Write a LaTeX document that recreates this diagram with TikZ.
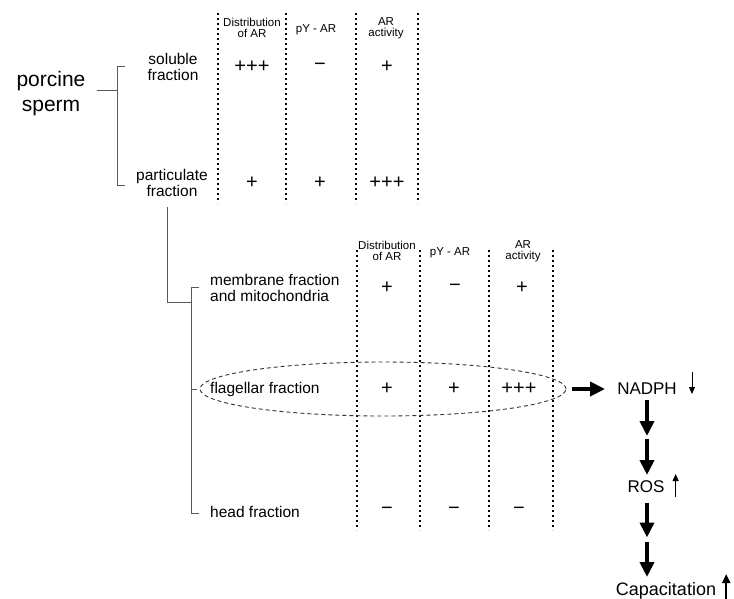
\documentclass[tikz,border=0pt]{standalone}
\usepackage{fontspec}
\setmainfont{Liberation Sans}
\usetikzlibrary{arrows.meta, shapes.geometric}

\begin{document}
\begin{tikzpicture}[
x=1pt, y=-1pt,
lbl/.style={inner sep=0pt, align=center, font=\fontsize{15.5}{16}\selectfont},
hdr/.style={inner sep=0pt, align=center, font=\fontsize{11.5}{11.5}\selectfont},
val/.style={inner sep=0pt, font=\fontsize{20}{20}\selectfont},
big/.style={inner sep=0pt, font=\fontsize{17}{17}\selectfont},
tree/.style={draw=black!65, line width=1pt},
sepline/.style={line width=1.1pt, dash pattern=on 2pt off 3pt},
fat/.style={line width=4.5pt, -{Triangle[length=15pt, width=14pt]}},
thin/.style={line width=0.9pt, -{Triangle[length=7pt, width=6pt]}}
]
\useasboundingbox (0,0) rectangle (734,598);

% upper table
\node[inner sep=0pt, align=center, font=\fontsize{21}{25}\selectfont] (porcine) at (51,94) {porcine\\sperm};
\node[lbl] (soluble) at (173,67) {soluble\\fraction};
\node[lbl] (particulate) at (172,183) {particulate\\fraction};

\node[hdr] (distA) at (252,28) {Distribution\\of AR};
\node[hdr] (pyA) at (316,30) {pY - AR};
\node[hdr] (actA) at (386,28) {AR\\activity};

\foreach \x in {218,286,356,418}
  \draw[sepline] (\x,13) -- (\x,203);

\node[val] (s1) at (252,67) {+++};
\node[val] (s2) at (320,67) {−};
\node[val] (s3) at (387,67) {+};
\node[val] (p1) at (252,183) {+};
\node[val] (p2) at (320,183) {+};
\node[val] (p3) at (387,183) {+++};

\coordinate (j1) at (117,90);
\coordinate (t1) at (125,66);
\coordinate (t2) at (125,185);
\draw[tree, shorten <=11pt] (porcine.east |- j1) -- (j1);
\draw[tree] (t1) -- ++(-8,0) |- (t2);

% lower table
\node[lbl, anchor=west, align=left] (membrane) at (210,288) {membrane fraction\\and mitochondria};
\node[lbl, anchor=west] (flagellar) at (210,389) {flagellar fraction};
\node[lbl, anchor=west] (head) at (210,512) {head fraction};

\node[hdr] (distB) at (387,251) {Distribution\\of AR};
\node[hdr] (pyB) at (450,253) {pY - AR};
\node[hdr] (actB) at (523,251) {AR\\activity};

\foreach \x in {357,420,489,553}
  \draw[sepline] (\x,250) -- (\x,530);

\node[val] (m1v) at (387,288) {+};
\node[val] (m2v) at (455,288) {−};
\node[val] (m3v) at (522,288) {+};
\node[val] (f1) at (387,389) {+};
\node[val] (f2) at (454,389) {+};
\node[val] (f3) at (519,389) {+++};
\node[val] (h1) at (387,511) {−};
\node[val] (h2) at (454,511) {−};
\node[val] (h3) at (519,511) {−};

\node[ellipse, draw=black!80, dash pattern=on 4pt off 3pt, line width=0.9pt, minimum width=366pt, minimum height=54pt] (flag) at (383,389) {};

\coordinate (t3) at (167,207);
\coordinate (t4) at (199,287);
\coordinate (t5) at (199,513);
\draw[tree] (t3) |- (191,302);
\draw[tree] (t4) -- ++(-8,0) |- (t5);
\draw[tree] (191,389) -- (197,389);

% pathway
\node[big] (nadph) at (647,389) {NADPH};
\node[big] (ros) at (646,487) {ROS};
\node[inner sep=0pt, font=\fontsize{18}{18}\selectfont] (cap) at (666,591) {Capacitation};
\coordinate (c1) at (647,437.5);
\coordinate (c2) at (647,539.5);

\draw[fat, shorten <=6pt, shorten >=12pt] (flag.east) -- (nadph.west);
\draw[fat, shorten <=11pt, shorten >=1.5pt] (nadph.center) -- (c1);
\draw[fat, shorten <=1.5pt, shorten >=12pt] (c1) -- (c1 |- ros.center);
\draw[fat, shorten <=16pt, shorten >=2pt] (c2 |- ros.center) -- (c2);
\draw[fat, shorten <=2.5pt, shorten >=14pt] (c2) -- (c2 |- cap.center);

\draw[thin] ([xshift=15pt, yshift=17pt]nadph.east) -- ++(0,22);
\draw[thin] ([xshift=11pt, yshift=-10pt]ros.east) -- ++(0,-23);
\draw[line width=2.2pt, -{Triangle[length=9pt, width=8pt]}] ([xshift=10pt, yshift=-8pt]cap.east) -- ++(0,-25);

\end{tikzpicture}
\end{document}
